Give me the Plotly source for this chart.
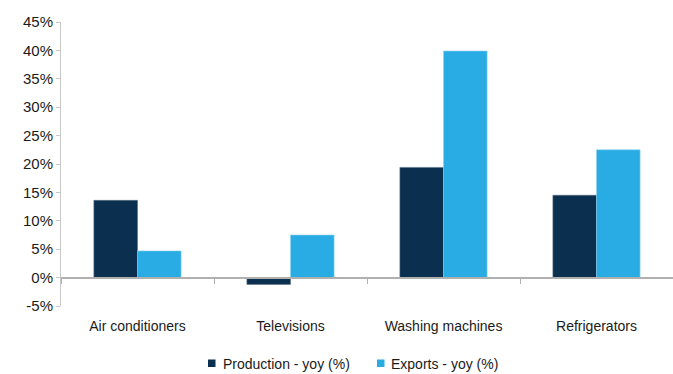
import plotly.graph_objects as go

categories = ["Air conditioners", "Televisions", "Washing machines", "Refrigerators"]
production_yoy = [13.6, -1.2, 19.4, 14.5]
exports_yoy = [4.7, 7.5, 39.9, 22.5]
y_ticks = list(range(-5, 50, 5))
y_tick_labels = [f"{v}%" for v in y_ticks]
series_names = ["Production - yoy (%)", "Exports - yoy (%)"]

NAVY = "#0B2F4F"
SKY = "#29ACE3"
AXIS_GREY = "#B0B0B0"
TEXT = "#1A1A1A"
FONT = "Liberation Sans, Arial, sans-serif"

W, H = 673, 374
ML, MR, MT, MB = 61, 0, 22, 68
PW, PH = W - ML - MR, H - MT - MB


def px_x(x):
    return (x - ML) / PW


def px_y(y):
    return (H - MB - y) / PH


fig = go.Figure()
fig.add_trace(go.Bar(
    x=categories, y=production_yoy, name=series_names[0],
    marker=dict(color=NAVY, line=dict(width=0.6, color="#5A7088")),
))
fig.add_trace(go.Bar(
    x=categories, y=exports_yoy, name=series_names[1],
    marker=dict(color=SKY, line=dict(width=0.6, color="#8FD3F2")),
))

# Compact legend below the chart: small squares plus labels
legend_items = [(208, 222, NAVY), (377, 390, SKY)]
shapes, annotations = [], []
for (sq_left, text_left, color), name in zip(legend_items, series_names):
    shapes.append(dict(
        type="rect", xref="paper", yref="paper",
        x0=px_x(sq_left), x1=px_x(sq_left + 7.5),
        y0=px_y(367), y1=px_y(359.5),
        fillcolor=color, line=dict(width=0),
    ))
    annotations.append(dict(
        text=name, xref="paper", yref="paper",
        x=px_x(text_left - 1), y=px_y(363.5), xanchor="left", yanchor="middle",
        showarrow=False, font=dict(size=14, color=TEXT),
    ))

fig.update_layout(
    width=W, height=H,
    margin=dict(l=ML, r=MR, t=MT, b=MB, autoexpand=False),
    paper_bgcolor="white", plot_bgcolor="white",
    barmode="group", bargap=0.43, bargroupgap=0,
    font=dict(family=FONT, size=14, color=TEXT),
    showlegend=False,
    shapes=shapes, annotations=annotations,
)

fig.update_yaxes(
    range=[-5, 45], tickvals=y_ticks, ticktext=y_tick_labels,
    showgrid=False, zeroline=False, automargin=False,
    showline=True, linecolor="#C8C8C8", linewidth=1,
    ticks="outside", ticklen=4, tickcolor="#C8C8C8",
    tickfont=dict(size=15, color=TEXT),
)

# Category axis sits on the 0% line, with its labels pushed down below the plot
fig.update_xaxes(
    anchor="free", position=0.1, automargin=False,
    showline=True, linecolor=AXIS_GREY, linewidth=1.5,
    ticks="outside", tickson="boundaries", ticklen=6, tickcolor=AXIS_GREY,
    ticklabelstandoff=36,
    tickfont=dict(size=14, color=TEXT),
    showgrid=False,
)

fig.write_html("out.html")
